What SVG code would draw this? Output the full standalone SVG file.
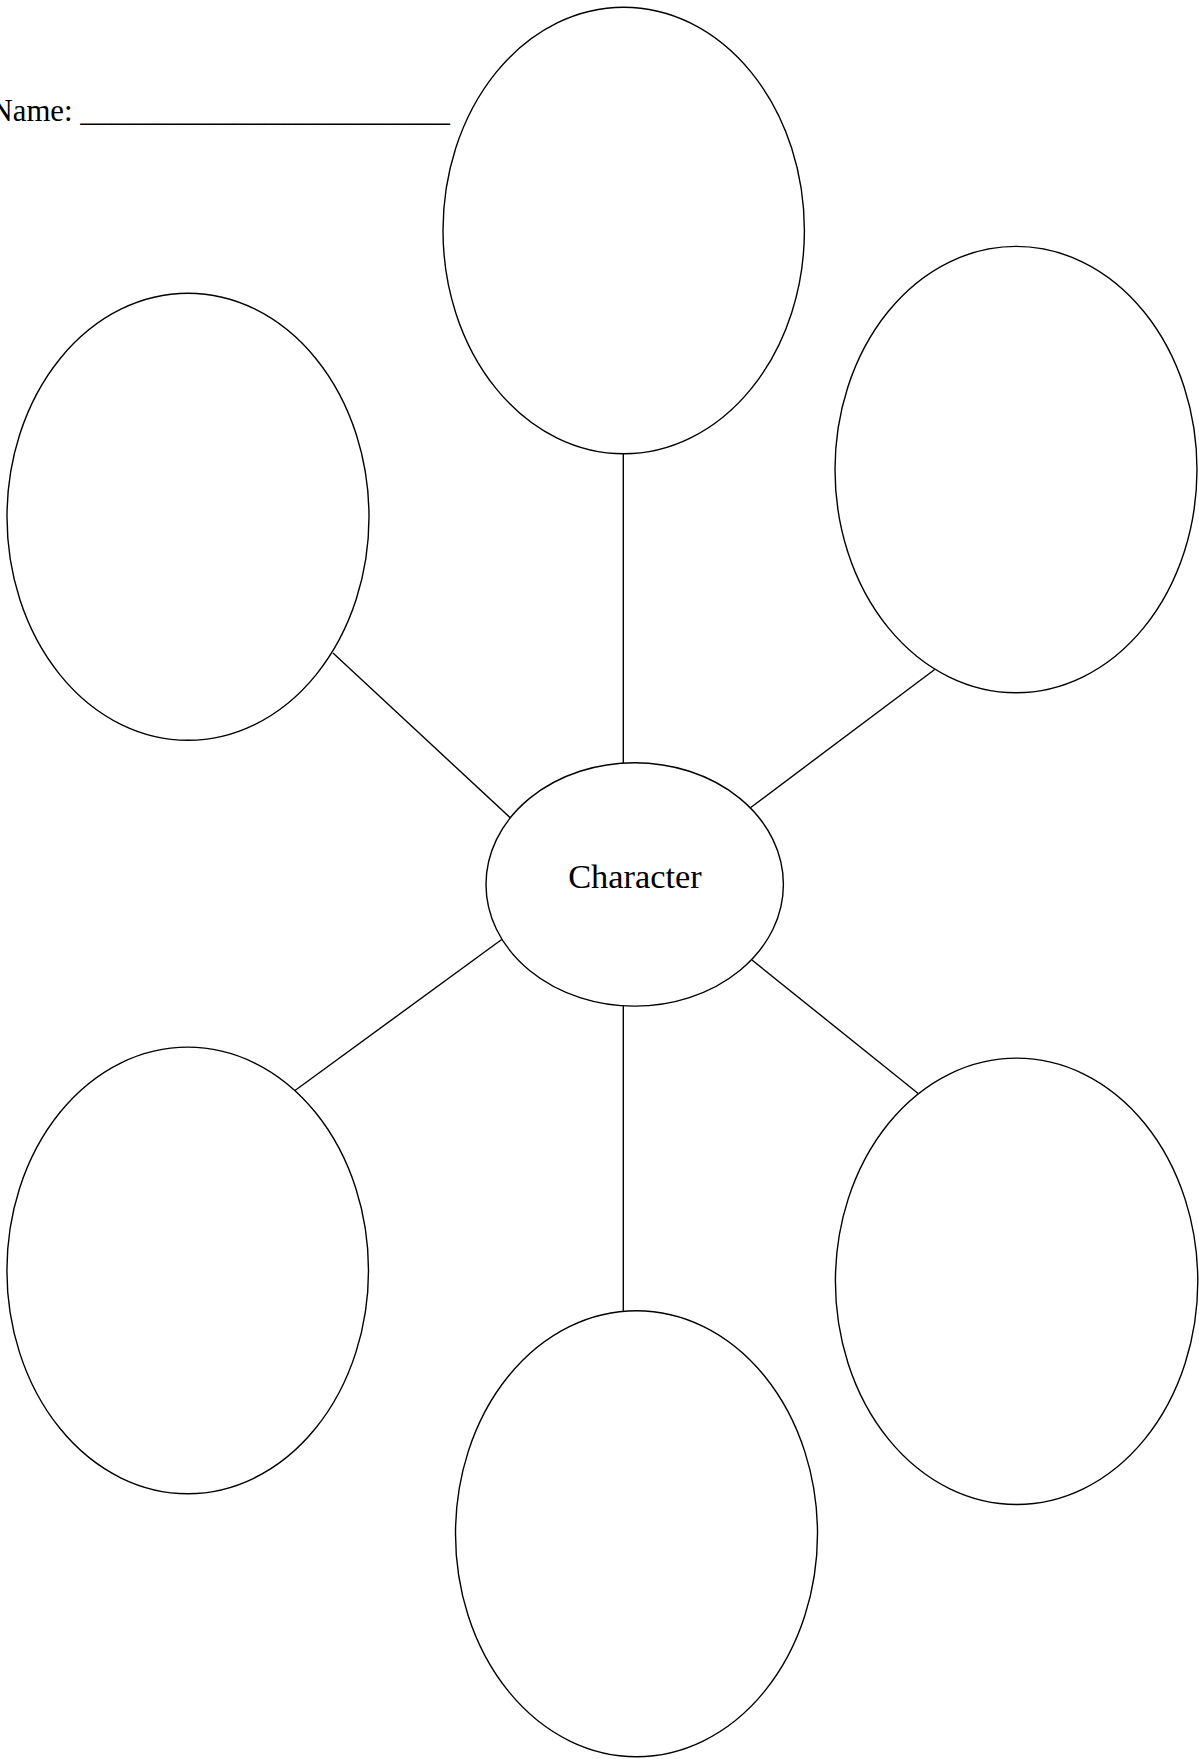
<svg xmlns="http://www.w3.org/2000/svg" width="1199" height="1759" viewBox="0 0 1199 1759">
<style>
.bg{fill:#ffffff}
.node{fill:none;stroke:#000000;stroke-width:1.4}
.edge{stroke:#000000;stroke-width:1.4;fill:none}
.txt{font-family:"Liberation Serif","Times New Roman",serif;fill:#000000}
</style>
<rect class="bg" x="0" y="0" width="1199" height="1759"/>
<text id="name-label" class="txt" x="-9.5" y="120.7" font-size="30.8" xml:space="preserve">Name: ________________________</text>
<g id="connectors">
<line class="edge" x1="623.3" y1="453.8" x2="623.3" y2="763"/>
<line class="edge" x1="333" y1="653" x2="510.5" y2="818"/>
<line class="edge" x1="934.7" y1="669.5" x2="750.7" y2="807.5"/>
<line class="edge" x1="501.7" y1="939.5" x2="295" y2="1090.5"/>
<line class="edge" x1="623.3" y1="1006" x2="623.3" y2="1310.7"/>
<line class="edge" x1="752" y1="960" x2="918.5" y2="1093.8"/>
</g>
<g id="node-top"><ellipse class="node" cx="623.7" cy="230.5" rx="180.7" ry="223.3"/></g>
<g id="node-upper-left"><ellipse class="node" cx="188" cy="516.8" rx="181" ry="223.5"/></g>
<g id="node-upper-right"><ellipse class="node" cx="1016" cy="469.6" rx="181" ry="223.2"/></g>
<g id="node-center"><ellipse class="node" cx="634.7" cy="884.4" rx="148.7" ry="121.7"/><text class="txt" x="635" y="887.7" font-size="34.4" text-anchor="middle">Character</text></g>
<g id="node-lower-left"><ellipse class="node" cx="187.7" cy="1270.4" rx="180.8" ry="223.3"/></g>
<g id="node-lower-right"><ellipse class="node" cx="1016.6" cy="1281.3" rx="181.2" ry="223.2"/></g>
<g id="node-bottom"><ellipse class="node" cx="636.5" cy="1533.7" rx="181" ry="223"/></g>
</svg>
